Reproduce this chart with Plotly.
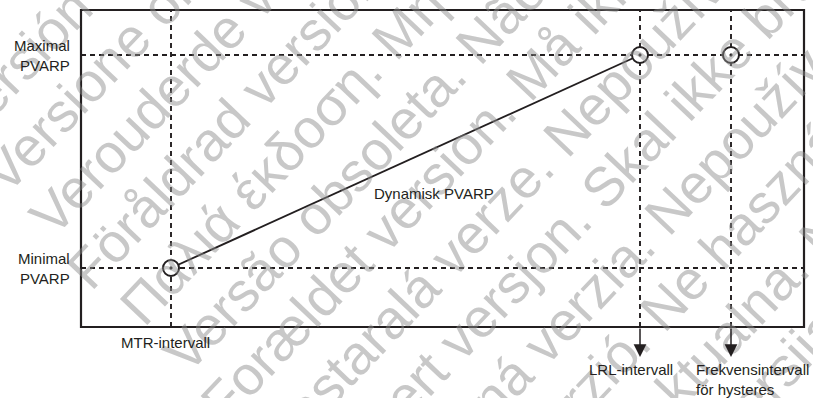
import math
import plotly.graph_objects as go

# ── Diagram values (axis units: x = interval, y = PVARP) ─────────────────────
interval_labels = ["MTR-intervall", "LRL-intervall", "Frekvensintervall<br>för hysteres"]
interval_x = [90, 559, 650]
pvarp_labels = ["Minimal<br>PVARP", "Maximal<br>PVARP"]
pvarp_y = [59, 272]
dynamic_label = "Dynamisk PVARP"

# watermark rows: (text, baseline start x px, row offset px)
watermark_rows = [
    ("Versión obsoleta. No utilizar.", -30, 78),
    ("Versione obsoleta. Non utilizzare.", 8, 142),
    ("Verouderde versie. Niet gebruiken.", 55, 205),
    ("Föråldrad version. Använd ej.", 92, 269),
    ("Παλιά έκδοση. Μην την χρησιμοποιείτε.", 145, 332),
    ("Versão obsoleta. Não utilize.", 188, 396),
    ("Forældet version. Må ikke anvendes.", 226, 458),
    ("Zastaralá verze. Nepoužívat.", 286, 523),
    ("Utdatert versjon. Skal ikke brukes.", 318, 587),
    ("Zastaraná verzia. Nepoužívať.", 367, 651),
    ("Elavult verzió. Ne használja!", 419, 714),
    ("Wersja nieaktualna. Nie używać.", 481, 778),
    ("Novecojusi versija. Neizmantot.", 540, 842),
]
WM_ANGLE = 46.5
WM_SIZE = 55

W, H = 813, 398
L, R, T, B = 81, 9, 10, 71
X_MAX, Y_MAX = W - L - R, H - T - B
INK = "#231f20"
FONT = "Liberation Sans, Arial, Helvetica, sans-serif"

fig = go.Figure()

# dashed guide lines
for x in interval_x:
    fig.add_trace(go.Scatter(x=[x, x], y=[0, Y_MAX], mode="lines",
                             line=dict(color=INK, width=1.9, dash="5px,4px"),
                             hoverinfo="skip"))
for y in pvarp_y:
    fig.add_trace(go.Scatter(x=[0, X_MAX], y=[y, y], mode="lines",
                             line=dict(color=INK, width=1.9, dash="5px,4px"),
                             hoverinfo="skip"))

# dynamic PVARP line
fig.add_trace(go.Scatter(x=interval_x[:2], y=pvarp_y, mode="lines",
                         line=dict(color=INK, width=1.9), hoverinfo="skip"))

# circles
fig.add_trace(go.Scatter(
    x=[interval_x[0], interval_x[1], interval_x[2]],
    y=[pvarp_y[0], pvarp_y[1], pvarp_y[1]],
    mode="markers",
    marker=dict(symbol="circle-dot", size=16, color="white",
                line=dict(color=INK, width=2)),
    hoverinfo="skip",
))

annotations = []

# watermark
def to_paper(px, py):
    return (px - L) / X_MAX, (H - B - py) / Y_MAX

s, c = math.sin(math.radians(WM_ANGLE)), math.cos(math.radians(WM_ANGLE))
box_h = WM_SIZE * 1.25
descent = WM_SIZE * 0.25
for text, x0, d in watermark_rows:
    y0 = (d - s * x0) / c
    # bottom-left corner of the rotated text box, then bbox left edge
    bl_x, bl_y = x0 + descent * s, y0 + descent * c
    xp, yp = to_paper(bl_x - box_h * s, bl_y)
    annotations.append(dict(
        text=text, xref="paper", yref="paper", x=xp, y=yp,
        xanchor="left", yanchor="bottom", textangle=-WM_ANGLE, showarrow=False,
        font=dict(family=FONT, size=WM_SIZE, color="rgba(140,140,140,0.48)"),
    ))

# arrows below the frame
for x in interval_x[1:]:
    annotations.append(dict(
        x=x, y=-30, ax=x, ay=0, xref="x", yref="y", axref="x", ayref="y",
        text="", showarrow=True, arrowhead=2, arrowsize=1.7, arrowwidth=1.5,
        arrowcolor=INK,
    ))

label_font = dict(family=FONT, size=15, color=INK)

for lab, y in zip(pvarp_labels, pvarp_y):
    annotations.append(dict(text=lab, xref="paper", yref="y", x=0, y=y,
                            xanchor="right", yanchor="middle", align="right",
                            xshift=-9, showarrow=False, font=label_font))

annotations.append(dict(text=interval_labels[0], x=interval_x[0], y=0,
                        xanchor="center", yanchor="top", xshift=-6, yshift=-5,
                        showarrow=False, font=label_font))
annotations.append(dict(text=interval_labels[1], x=interval_x[1], y=0,
                        xanchor="center", yanchor="top", xshift=-9, yshift=-32,
                        showarrow=False, font=label_font))
annotations.append(dict(text=interval_labels[2], x=interval_x[2], y=0,
                        xanchor="left", yanchor="top", xshift=-37, yshift=-32,
                        align="left", showarrow=False, font=label_font))

annotations.append(dict(
    text=dynamic_label,
    x=interval_x[0] + 0.56 * (interval_x[1] - interval_x[0]),
    y=pvarp_y[0] + 0.35 * (pvarp_y[1] - pvarp_y[0]),
    xanchor="center", yanchor="middle", showarrow=False, font=label_font,
))

fig.update_layout(
    width=W, height=H,
    margin=dict(l=L, r=R, t=T, b=B),
    paper_bgcolor="white", plot_bgcolor="white",
    showlegend=False,
    xaxis=dict(range=[0, X_MAX], visible=False, fixedrange=True),
    yaxis=dict(range=[0, Y_MAX], visible=False, fixedrange=True),
    shapes=[dict(type="rect", xref="paper", yref="paper", x0=0, y0=0, x1=1, y1=1,
                 line=dict(color=INK, width=2.2))],
    annotations=annotations,
)

fig.write_html("out.html", config={"displayModeBar": False},
               post_script="document.body.style.margin='0px';")
